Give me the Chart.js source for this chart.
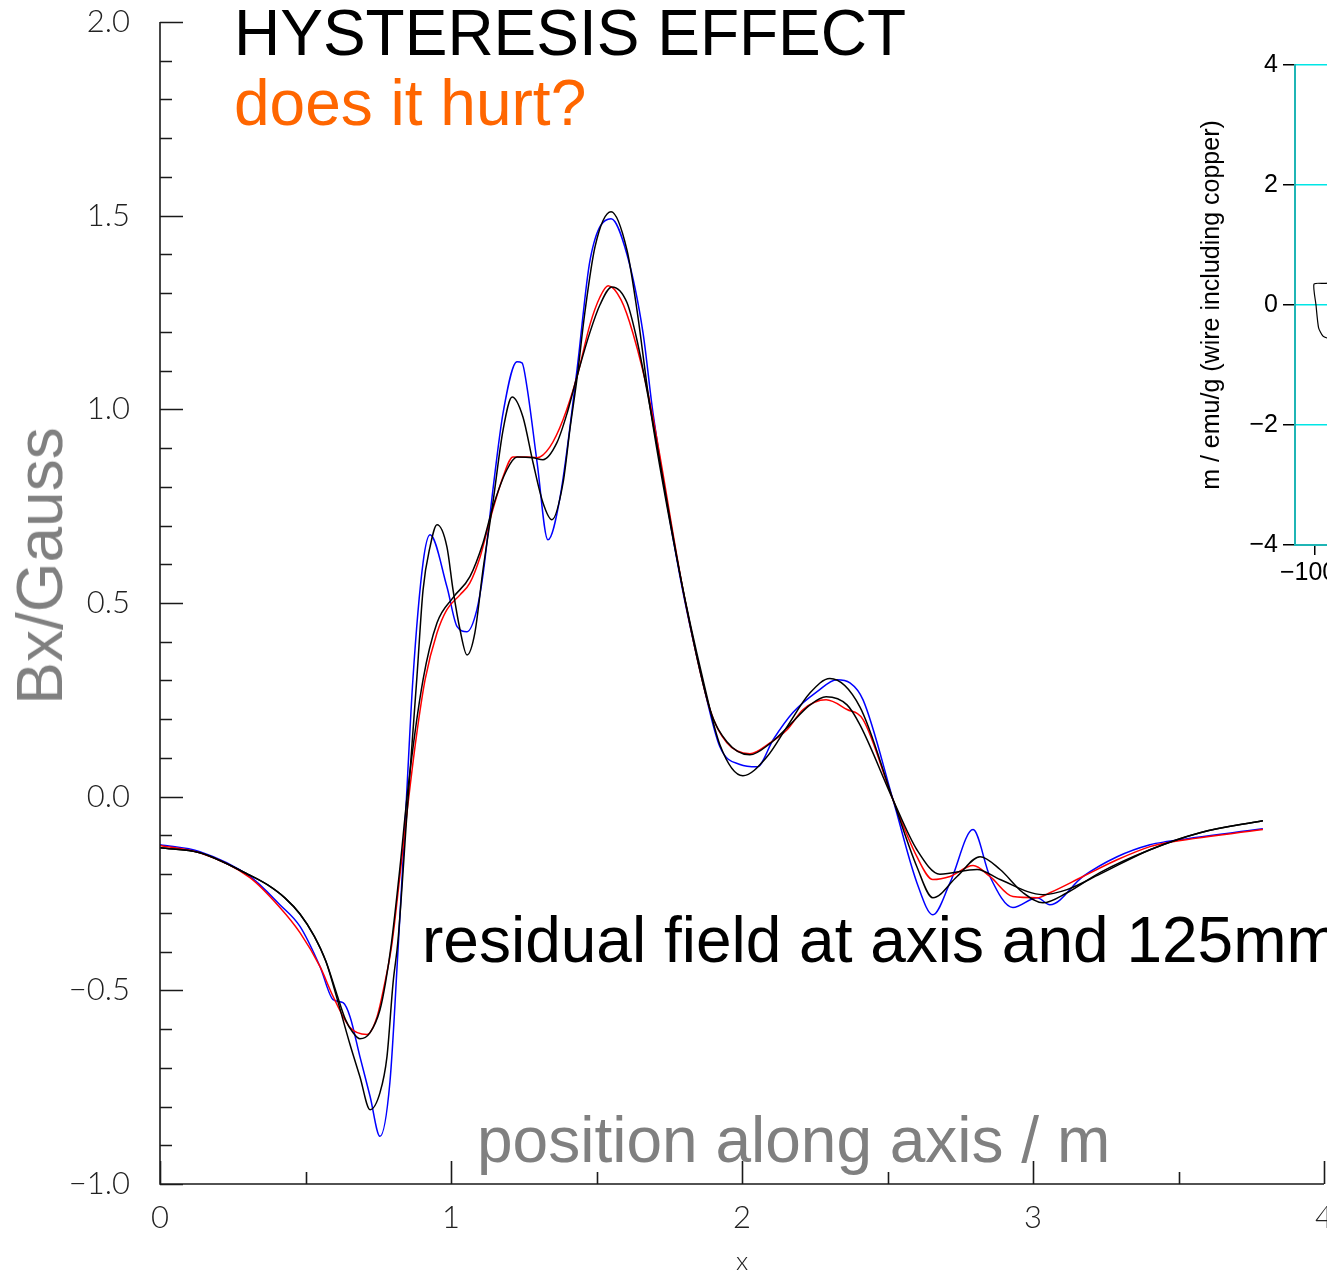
<!DOCTYPE html>
<html>
<head>
<meta charset="utf-8">
<script src="https://cdn.jsdelivr.net/npm/chart.js@4.4.0/dist/chart.umd.min.js"></script>
<style>
  html, body { margin: 0; padding: 0; background: #fff; overflow: hidden; width: 1327px; height: 1277px; }
  #main { position: absolute; left: 0; top: 0; }
  #inset { position: absolute; left: 1190px; top: 0; }
  .lbl { position: absolute; font-family: 'Liberation Sans', Arial, sans-serif; font-size: 64px; line-height: 64px; white-space: nowrap; }
</style>
</head>
<body>
<canvas id="main" width="1500" height="1277"></canvas>
<canvas id="inset" width="600" height="620"></canvas>

<div class="lbl" style="left:234px; top:1px; color:#000;">HYSTERESIS EFFECT</div>
<div class="lbl" style="left:234px; top:71px; color:#ff6600;">does it hurt?</div>
<div class="lbl" style="left:40px; top:566px; color:#808080; transform: translate(-50%,-50%) rotate(-90deg);">Bx/Gauss</div>
<div class="lbl" style="left:422px; top:908px; color:#000;">residual field at axis and 125mm</div>
<div class="lbl" style="left:477px; top:1108px; color:#808080;">position along axis / m</div>

<script>
// MAIN PLOT: residual field Bx along the axis

const xTicks = [0, 1, 2, 3, 4];
const yTicks = [-1.0, -0.5, 0.0, 0.5, 1.0, 1.5, 2.0];
const xMinorStep = 0.5;
const yMinorStep = 0.1;

// measured, blue
const blueX = [0, 0.137, 0.309, 0.412, 0.481, 0.550, 0.595, 0.629, 0.653, 0.687, 0.722, 0.756, 0.790, 0.818, 0.844,
  0.869, 0.904, 0.928, 0.986, 1.021, 1.055, 1.089, 1.110, 1.144, 1.179, 1.227, 1.244, 1.261, 1.296, 1.333, 1.375,
  1.433, 1.478, 1.550, 1.605, 1.660, 1.694, 1.787, 1.866, 1.924, 1.993, 2.052, 2.107, 2.175, 2.258, 2.326, 2.371,
  2.416, 2.519, 2.601, 2.656, 2.715, 2.794, 2.852, 2.931, 3.014, 3.058, 3.172, 3.289, 3.402, 3.460, 3.790];
const blueY = [-0.124, -0.142, -0.206, -0.279, -0.335, -0.439, -0.524, -0.532, -0.568, -0.671, -0.774, -0.877, -0.738, -0.395, -0.046,
  0.302, 0.604, 0.676, 0.542, 0.439, 0.426, 0.483, 0.573, 0.792, 0.991, 1.123, 1.120, 1.058, 0.862, 0.663, 0.774,
  1.102, 1.386, 1.492, 1.399, 1.197, 0.991, 0.568, 0.294, 0.129, 0.083, 0.077, 0.147, 0.217, 0.271, 0.302, 0.294,
  0.250, -0.008, -0.222, -0.305, -0.222, -0.085, -0.206, -0.286, -0.261, -0.279, -0.206, -0.155, -0.124, -0.116, -0.083];

// measured, red
const redX = [0, 0.137, 0.309, 0.412, 0.481, 0.550, 0.595, 0.653, 0.711, 0.746, 0.770, 0.797, 0.825, 0.852, 0.880,
  0.911, 0.952, 0.986, 1.031, 1.065, 1.100, 1.134, 1.179, 1.213, 1.261, 1.296, 1.340, 1.385, 1.433, 1.478, 1.512,
  1.540, 1.584, 1.625, 1.684, 1.804, 1.890, 1.948, 2.027, 2.096, 2.155, 2.210, 2.289, 2.361, 2.416, 2.519, 2.601,
  2.656, 2.715, 2.794, 2.852, 2.931, 3.014, 3.058, 3.172, 3.289, 3.402, 3.460, 3.790];
const redY = [-0.126, -0.145, -0.209, -0.286, -0.351, -0.439, -0.516, -0.596, -0.614, -0.568, -0.490, -0.380, -0.200, -0.020, 0.150,
  0.302, 0.423, 0.483, 0.521, 0.552, 0.619, 0.715, 0.826, 0.877, 0.877, 0.875, 0.903, 0.973, 1.084, 1.220, 1.290,
  1.319, 1.283, 1.197, 1.017, 0.508, 0.225, 0.139, 0.111, 0.139, 0.173, 0.225, 0.250, 0.225, 0.199, -0.008, -0.155,
  -0.214, -0.206, -0.178, -0.206, -0.258, -0.261, -0.248, -0.206, -0.163, -0.129, -0.119, -0.085];

// model, black (follows blue)
const modelAX = [0, 0.137, 0.309, 0.370, 0.430, 0.481, 0.530, 0.570, 0.606, 0.653, 0.687, 0.722, 0.756, 0.780, 0.801,
  0.818, 0.850, 0.883, 0.904, 0.928, 0.952, 0.986, 1.007, 1.031, 1.055, 1.082, 1.110, 1.144, 1.179, 1.210, 1.247,
  1.282, 1.316, 1.347, 1.385, 1.409, 1.433, 1.460, 1.495, 1.550, 1.605, 1.639, 1.684, 1.787, 1.866, 1.924, 2.003,
  2.086, 2.155, 2.234, 2.302, 2.405, 2.519, 2.601, 2.656, 2.739, 2.818, 2.887, 2.966, 3.034, 3.117, 3.230, 3.402,
  3.574, 3.790];
const modelAY = [-0.132, -0.145, -0.203, -0.228, -0.262, -0.303, -0.360, -0.425, -0.515, -0.640, -0.723, -0.808, -0.764, -0.671, -0.480,
  -0.370, -0.030, 0.310, 0.534, 0.645, 0.702, 0.645, 0.534, 0.431, 0.366, 0.423, 0.586, 0.759, 0.947, 1.032, 0.981,
  0.862, 0.759, 0.715, 0.810, 0.950, 1.080, 1.250, 1.420, 1.510, 1.410, 1.257, 1.006, 0.573, 0.302, 0.134, 0.054,
  0.103, 0.181, 0.268, 0.305, 0.232, -0.008, -0.181, -0.261, -0.206, -0.155, -0.188, -0.248, -0.274, -0.248, -0.196, -0.137,
  -0.093, -0.062];

// model, black (follows red)
const modelBX = [0, 0.137, 0.309, 0.370, 0.430, 0.481, 0.530, 0.570, 0.606, 0.637, 0.663, 0.687, 0.722, 0.756, 0.775,
  0.795, 0.825, 0.852, 0.904, 0.952, 1.007, 1.065, 1.110, 1.144, 1.192, 1.227, 1.282, 1.316, 1.364, 1.399, 1.433,
  1.478, 1.512, 1.553, 1.605, 1.639, 1.684, 1.804, 1.890, 1.948, 2.027, 2.096, 2.155, 2.234, 2.289, 2.361, 2.405,
  2.519, 2.601, 2.680, 2.808, 2.887, 3.034, 3.117, 3.230, 3.402, 3.574, 3.790];
const modelBY = [-0.132, -0.145, -0.203, -0.228, -0.262, -0.303, -0.360, -0.425, -0.506, -0.575, -0.609, -0.625, -0.609, -0.550, -0.480,
  -0.380, -0.180, 0.020, 0.302, 0.449, 0.514, 0.568, 0.655, 0.748, 0.844, 0.877, 0.875, 0.870, 0.914, 0.990, 1.085,
  1.200, 1.270, 1.316, 1.275, 1.179, 1.006, 0.508, 0.225, 0.142, 0.108, 0.137, 0.178, 0.237, 0.258, 0.237, 0.186,
  -0.008, -0.137, -0.200, -0.188, -0.214, -0.253, -0.240, -0.200, -0.137, -0.093, -0.062];

// INSET: magnetisation loop (only its left edge is on the page)
const insetXTicks = [-1000, -500, 0, 500, 1000];
const insetYTicks = [-4, -2, 0, 2, 4];
const loopX = [-900, -950, -1005, -995, -982, -960, -940, -900];
const loopY = [0.37, 0.36, 0.35, 0.0, -0.38, -0.52, -0.55, -0.57];

const pts = (xs, ys) => xs.map((v, i) => ({ x: v, y: ys[i] }));
const minus = s => s.replace('-', '\u2212');
const thin = { family: 'Lato, "DejaVu Sans", sans-serif', size: 31, weight: 300 };

// axes drawn IDL style: ticks pointing into the plot
const idlAxes = {
  id: 'idlAxes',
  afterDraw(chart) {
    const { ctx, chartArea: a, scales: { x, y } } = chart;
    ctx.save();
    ctx.strokeStyle = '#1a1a1a';
    ctx.lineWidth = 1.6;
    ctx.beginPath();
    ctx.moveTo(a.left, a.top);
    ctx.lineTo(a.left, a.bottom);
    ctx.lineTo(a.right, a.bottom);
    const ny = Math.round((y.max - y.min) / yMinorStep);
    for (let i = 0; i <= ny; i++) {
      const v = y.min + i * yMinorStep;
      const py = Math.round(y.getPixelForValue(v)) + 0.5;
      const major = i % 5 === 0;
      ctx.moveTo(a.left, py);
      ctx.lineTo(a.left + (major ? 23 : 12), py);
    }
    const nx = Math.round((x.max - x.min) / xMinorStep);
    for (let i = 0; i <= nx; i++) {
      const v = x.min + i * xMinorStep;
      const px = Math.round(x.getPixelForValue(v)) + 0.5;
      const major = i % 2 === 0;
      ctx.moveTo(px, a.bottom);
      ctx.lineTo(px, a.bottom - (major ? 23 : 12));
    }
    ctx.stroke();
    ctx.restore();
  }
};

const line = (data, color) => ({
  data: data,
  borderColor: color,
  borderWidth: 1.5,
  pointRadius: 0,
  fill: false,
  cubicInterpolationMode: 'monotone'
});

new Chart(document.getElementById('main'), {
  type: 'line',
  data: {
    datasets: [
      line(pts(modelBX, modelBY), '#000000'),
      line(pts(modelAX, modelAY), '#000000'),
      line(pts(redX, redY), '#ff0000'),
      line(pts(blueX, blueY), '#0000ff')
    ]
  },
  options: {
    responsive: false,
    animation: false,
    events: [],
    layout: { padding: { left: 0, top: 22, right: 176, bottom: 0 } },
    plugins: { legend: { display: false }, tooltip: { enabled: false } },
    scales: {
      x: {
        type: 'linear',
        min: 0,
        max: 4,
        afterBuildTicks: s => { s.ticks = xTicks.map(v => ({ value: v })); },
        afterFit: s => { s.height = 93; s.paddingLeft = 0; s.paddingRight = 0; },
        grid: { display: false, drawTicks: false },
        border: { display: false },
        ticks: { font: thin, color: '#222', padding: 15, maxRotation: 0, autoSkip: false, callback: v => String(v) },
        title: { display: true, text: 'x', font: { family: 'Lato, "DejaVu Sans", sans-serif', size: 26, weight: 300 }, color: '#222', padding: { top: 0, bottom: 0 } }
      },
      y: {
        type: 'linear',
        min: -1,
        max: 2,
        afterBuildTicks: s => { s.ticks = yTicks.map(v => ({ value: v })); },
        afterFit: s => { s.width = 160; s.paddingTop = 0; s.paddingBottom = 0; },
        grid: { display: false, drawTicks: false },
        border: { display: false },
        ticks: { font: thin, color: '#222', padding: 30, autoSkip: false, callback: v => minus(v.toFixed(1)) }
      }
    }
  },
  plugins: [idlAxes]
});

new Chart(document.getElementById('inset'), {
  type: 'line',
  data: {
    datasets: [{ data: pts(loopX, loopY), borderColor: '#000', borderWidth: 1.2, pointRadius: 0, fill: false, tension: 0.2 }]
  },
  options: {
    responsive: false,
    animation: false,
    events: [],
    layout: { padding: { left: 0, top: 65, right: 55, bottom: 0 } },
    plugins: { legend: { display: false }, tooltip: { enabled: false } },
    scales: {
      x: {
        type: 'linear',
        min: -1100,
        max: 1100,
        afterBuildTicks: s => { s.ticks = insetXTicks.map(v => ({ value: v })); },
        afterFit: s => { s.height = 75; },
        grid: { drawOnChartArea: false, tickLength: 10, tickColor: '#000', lineWidth: 1.5 },
        border: { color: '#1fb5b5', width: 2 },
        ticks: { font: { family: 'Liberation Sans, Arial, sans-serif', size: 25 }, color: '#000', padding: 3, maxRotation: 0, autoSkip: false, callback: v => minus(String(v)) }
      },
      y: {
        type: 'linear',
        min: -4,
        max: 4,
        afterBuildTicks: s => { s.ticks = insetYTicks.map(v => ({ value: v })); },
        afterFit: s => { s.width = 105; },
        grid: { color: '#00e6e6', tickColor: '#000', tickLength: 12, lineWidth: 1.5 },
        border: { color: '#1fb5b5', width: 2 },
        ticks: { font: { family: 'Liberation Sans, Arial, sans-serif', size: 25 }, color: '#000', padding: 5, autoSkip: false, callback: v => minus(String(v)) },
        title: { display: true, text: 'm / emu/g (wire including copper)', font: { family: 'Liberation Sans, Arial, sans-serif', size: 25 }, color: '#000', padding: { top: 7, bottom: 0 } }
      }
    }
  }
});
</script>
</body>
</html>
